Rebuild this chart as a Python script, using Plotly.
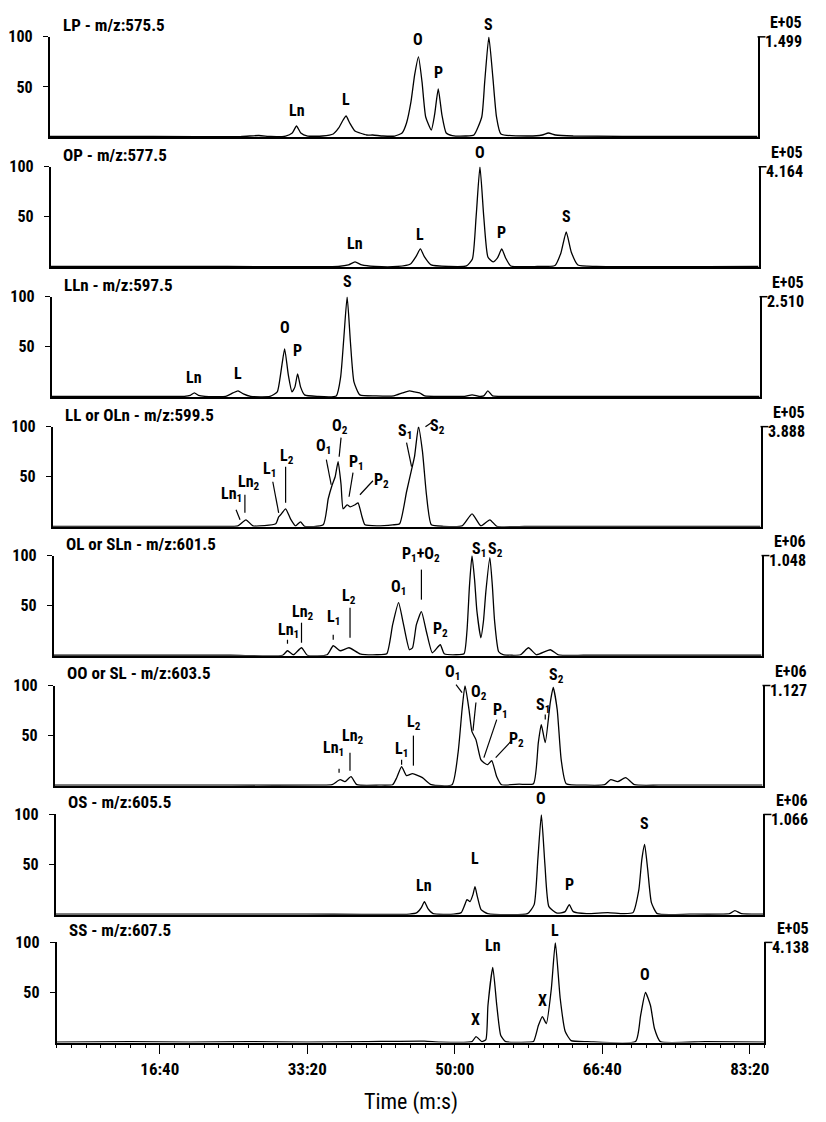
import plotly.graph_objects as go

# ---------------- data ----------------
x_range = [300, 5100]                       # seconds
tick_vals = [1000, 2000, 3000, 4000, 5000]
tick_text = ["16:40", "33:20", "50:00", "66:40", "83:20"]
y_ticks = [50, 100]

titles = ["LP - m/z:575.5", "OP - m/z:577.5", "LLn - m/z:597.5", "LL or OLn - m/z:599.5",
          "OL or SLn - m/z:601.5", "OO or SL - m/z:603.5", "OS - m/z:605.5", "SS - m/z:607.5"]
exponents = ["E+05", "E+05", "E+05", "E+05", "E+06", "E+06", "E+06", "E+05"]
maxima = ["1.499", "4.164", "2.510", "3.888", "1.048", "1.127", "1.066", "4.138"]

p1_t = [300, 1000, 1600, 1719, 1800, 1900, 1945, 1974, 2003, 2050, 2150, 2223, 2260, 2290, 2310, 2335, 2370,
        2404, 2450, 2491, 2560, 2640, 2690, 2720, 2750, 2775, 2801, 2825, 2850, 2888, 2910, 2935, 2960, 2989,
        3030, 3120, 3177, 3230, 3250, 3278, 3305, 3330, 3360, 3550, 3640, 3682, 3730, 3850, 4500, 5100]
p1_v = [0.5, 0.5, 0.5, 1.5, 0.5, 1, 4, 11, 4, 1, 1, 3, 9, 17, 21, 14, 6,
        4, 2, 2, 1, 1, 4, 14, 35, 62, 80, 55, 20, 7, 22, 48, 22, 4,
        1.5, 1, 2, 20, 55, 100, 60, 20, 3, 1, 2, 4, 2, 1, 0.5, 0.5]

p2_t = [300, 1500, 2250, 2320, 2364, 2410, 2500, 2650, 2740, 2780, 2807, 2835, 2880, 3000, 3120, 3160, 3185,
        3211, 3237, 3265, 3300, 3330, 3359, 3385, 3420, 3600, 3720, 3760, 3796, 3830, 3875, 4000, 5100]
p2_v = [0.5, 0.5, 0.5, 2, 5, 2, 0.5, 0.5, 3, 11, 18, 10, 2, 0.5, 1, 8, 50,
        100, 50, 10, 5, 9, 18, 9, 1, 0.5, 1.5, 14, 35, 15, 2, 0.5, 0.5]

p3_t = [300, 1000, 1200, 1240, 1268, 1296, 1340, 1480, 1530, 1564, 1600, 1650, 1780, 1830, 1855, 1880, 1905,
        1930, 1950, 1968, 1988, 2015, 2100, 2230, 2260, 2282, 2304, 2326, 2350, 2390, 2500, 2620, 2680, 2727,
        2760, 2795, 2830, 2950, 3100, 3151, 3200, 3230, 3258, 3290, 3400, 5100]
p3_v = [0.5, 0.5, 0.5, 1.5, 4, 1.5, 0.5, 0.5, 4, 6, 3, 0.5, 0.5, 5, 25, 48, 22,
        5, 10, 23, 10, 2, 0.5, 1, 20, 60, 100, 55, 15, 2, 1, 1, 4, 6,
        5, 4, 1, 0.5, 0.5, 2, 0.5, 1, 6, 1, 0.5, 0.5]

p4_t = [300, 1400, 1557, 1611, 1658, 1813, 1833, 1846, 1880, 1913, 1947, 1981, 2008, 2135, 2169, 2196, 2216,
        2236, 2256, 2270, 2297, 2317, 2351, 2371, 2398, 2418, 2500, 2606, 2653, 2700, 2734, 2754, 2781, 2808,
        2835, 2868, 2950, 3077, 3144, 3204, 3265, 3312, 3500, 5100]
p4_v = [0.5, 0.5, 1, 7, 1, 3, 10, 12, 18, 8, 1, 5, 0.5, 2, 28, 42, 50,
        65, 42, 18, 22, 20, 22, 24, 10, 2, 1, 2, 3, 35, 57, 70, 100, 75,
        32, 2, 0.5, 1, 13, 1, 7, 0.5, 0.5, 0.5]

p5_t = [300, 1500, 1853, 1886, 1927, 1981, 2021, 2155, 2196, 2243, 2303, 2377, 2491, 2559, 2599, 2639, 2673,
        2713, 2734, 2760, 2794, 2828, 2868, 2922, 2949, 3029, 3083, 3103, 3120, 3137, 3155, 3170, 3197, 3215,
        3231, 3258, 3275, 3290, 3318, 3352, 3466, 3520, 3574, 3668, 3722, 3900, 5100]
p5_v = [0.5, 0.5, 0.5, 5, 1, 8, 0.5, 1, 10, 5, 8, 2, 1, 2, 31, 53, 31,
        6, 8, 31, 44, 24, 3, 11, 2, 1, 2, 25, 70, 100, 75, 45, 18, 35,
        64, 98, 70, 35, 4, 1, 1, 8, 1, 6, 1, 0.5, 0.5]

p6_t = [300, 1500, 2100, 2182, 2236, 2269, 2310, 2350, 2500, 2592, 2620, 2653, 2686, 2727, 2794, 2854, 2995,
        3036, 3063, 3083, 3110, 3130, 3157, 3190, 3211, 3237, 3264, 3298, 3331, 3450, 3547, 3580, 3600, 3627,
        3661, 3681, 3708, 3735, 3769, 3900, 4030, 4071, 4118, 4172, 4232, 4400, 5100]
p6_v = [0.5, 0.5, 0.5, 1, 6, 4, 9, 1, 0.5, 1, 8, 19, 10, 12, 8, 1, 1,
        33, 76, 100, 76, 54, 46, 26, 23, 21, 25, 9, 1, 1.5, 2, 43, 61, 43,
        83, 98, 76, 26, 2, 0.5, 1, 6, 4, 8, 1, 0.5, 0.5]

p7_t = [300, 2000, 2700, 2750, 2780, 2801, 2825, 2860, 3000, 3050, 3075, 3090, 3110, 3130, 3144, 3160, 3185,
        3230, 3500, 3545, 3570, 3594, 3618, 3645, 3700, 3755, 3783, 3810, 3900, 4045, 4150, 4215, 4255, 4275,
        4294, 4315, 4340, 4380, 4600, 4870, 4906, 4950, 5100]
p7_v = [0.5, 0.5, 0.5, 2, 7, 13, 6, 1, 0.5, 2, 10, 15, 13, 20, 28, 18, 5,
        1, 1, 10, 55, 100, 50, 8, 1.5, 3, 10, 3, 1, 2, 1, 2, 25, 55,
        70, 45, 12, 1, 0.5, 1, 4, 1, 0.5]

p8_t = [300, 800, 1200, 1600, 2000, 2400, 2794, 2900, 3117, 3144, 3184, 3211, 3225, 3258, 3285, 3312, 3345,
        3500, 3534, 3567, 3594, 3621, 3655, 3682, 3715, 3749, 3789, 3900, 4226, 4260, 4293, 4327, 4354, 4394,
        4700, 5100]
p8_v = [0.5, 1, 0.5, 1, 0.5, 1, 1.5, 0.5, 1, 6, 1, 3, 37, 75, 37, 7, 1,
        0.5, 1, 17, 26, 19, 54, 100, 44, 11, 2, 1, 1, 27, 50, 37, 14, 1,
        1, 0.5]

# peak labels: (text, time, level)
p1_labels = [("Ln", 1974, 26), ("L", 2310, 37), ("O", 2801, 97), ("P", 2935, 64), ("S", 3278, 112)]
p2_labels = [("Ln", 2364, 23), ("L", 2807, 32), ("O", 3211, 114), ("P", 3359, 34), ("S", 3796, 50)]
p3_labels = [("Ln", 1268, 19), ("L", 1564, 23), ("O", 1880, 69), ("P", 1968, 46), ("S", 2304, 115)]
p4_labels = [("Ln<sub>1</sub>", 1510, 32), ("Ln<sub>2</sub>", 1631, 44), ("L<sub>1</sub>", 1772, 57),
             ("L<sub>2</sub>", 1887, 70), ("O<sub>1</sub>", 2135, 80), ("O<sub>2</sub>", 2250, 100),
             ("P<sub>1</sub>", 2364, 64), ("P<sub>2</sub>", 2532, 46), ("S<sub>1</sub>", 2687, 95),
             ("S<sub>2</sub>", 2909, 100)]
p5_labels = [("Ln<sub>1</sub>", 1893, 25), ("Ln<sub>2</sub>", 1994, 43), ("L<sub>1</sub>", 2196, 38),
             ("L<sub>2</sub>", 2303, 59), ("O<sub>1</sub>", 2639, 68), ("P<sub>1</sub>+O<sub>2</sub>", 2794, 101),
             ("P<sub>2</sub>", 2922, 26), ("S<sub>1</sub>", 3184, 106), ("S<sub>2</sub>", 3298, 106)]
p6_labels = [("Ln<sub>1</sub>", 2192, 37), ("Ln<sub>2</sub>", 2322, 49), ("L<sub>1</sub>", 2653, 36),
             ("L<sub>2</sub>", 2740, 63), ("O<sub>1</sub>", 2995, 113), ("O<sub>2</sub>", 3177, 93),
             ("P<sub>1</sub>", 3325, 75), ("P<sub>2</sub>", 3432, 46), ("S<sub>1</sub>", 3614, 80),
             ("S<sub>2</sub>", 3701, 110)]
p7_labels = [("Ln", 2801, 29), ("L", 3144, 56), ("O", 3594, 116), ("P", 3783, 30), ("S", 4294, 91)]
p8_labels = [("X", 3144, 23), ("Ln", 3258, 97), ("X", 3594, 42), ("L", 3682, 112), ("O", 4293, 68)]

# leader lines: (t0, level0, t1, level1)
p4_lines = [(1544, 17, 1571, 7), (1604, 32, 1604, 14), (1793, 45, 1833, 14), (1880, 60, 1880, 24),
            (2156, 67, 2189, 42), (2256, 89, 2243, 70), (2337, 54, 2310, 30), (2472, 46, 2384, 32),
            (2700, 84, 2734, 60), (2828, 100, 2868, 104)]
p5_lines = [(1886, 16, 1886, 12), (1981, 33, 1981, 13), (2196, 21, 2196, 16), (2310, 48, 2310, 18),
            (2794, 86, 2794, 56)]
p6_lines = [(2229, 17, 2229, 13), (2303, 33, 2303, 15), (2653, 26, 2653, 21), (2733, 50, 2733, 20),
            (3022, 101, 3063, 93), (3157, 83, 3137, 55), (3298, 66, 3211, 28), (3399, 45, 3291, 28),
            (3627, 71, 3627, 66)]

series_t = [p1_t, p2_t, p3_t, p4_t, p5_t, p6_t, p7_t, p8_t]
series_v = [p1_v, p2_v, p3_v, p4_v, p5_v, p6_v, p7_v, p8_v]
labels = [p1_labels, p2_labels, p3_labels, p4_labels, p5_labels, p6_labels, p7_labels, p8_labels]
lines = [[], [], [], p4_lines, p5_lines, p6_lines, [], []]

# ---------------- layout geometry / style ----------------
# page body has an 8px margin, so the figure is drawn 8px in from the window corner
OFF = 8
FW, FH = 810, 1106


def fx(px):
    return (px - OFF) / FW


def fy(py):
    return 1 - (py - OFF) / FH


FONT = "Roboto Condensed, Noto Sans Condensed, DejaVu Sans Condensed, Liberation Sans, sans-serif"
baselines = [129, 260, 391, 522, 652, 783, 913, 1042]
PH = 101

fig = go.Figure()
layout = dict(width=FW, height=FH, margin=dict(l=0, r=0, t=0, b=0),
              paper_bgcolor="white", plot_bgcolor="white", showlegend=False)
annotations, shapes = [], []


def bfont(size):
    return dict(family=FONT, size=size, color="black", weight="bold")


for i in range(8):
    k = "" if i == 0 else str(i + 1)
    left, right = 47 + i, 762 + i
    b = baselines[i]
    fig.add_trace(go.Scatter(x=series_t[i], y=series_v[i], mode="lines",
                             line=dict(color="black", width=1.3, shape="spline", smoothing=0.5),
                             xaxis="x" + k, yaxis="y" + k, cliponaxis=False, hoverinfo="skip"))
    xa = dict(domain=[fx(left), fx(right)], range=x_range, anchor="y" + k, showline=True,
              linecolor="black", linewidth=1.6, showgrid=False, zeroline=False, ticks="",
              showticklabels=False)
    if i == 7:
        xa.update(tickvals=tick_vals, ticktext=tick_text, ticks="outside", ticklen=10, tickwidth=1.2,
                  tickcolor="black", showticklabels=True, tickfont=bfont(17),
                  minor=dict(dtick=100, tick0=0, ticks="outside", ticklen=4, tickwidth=1, tickcolor="black"))
    ya = dict(domain=[fy(b), fy(b - PH)], range=[0, 100], anchor="x" + k, showline=True, mirror=True,
              linecolor="black", linewidth=1.6, tickvals=y_ticks, ticks="outside", ticklen=5,
              tickwidth=1.2, tickcolor="black", showgrid=False, zeroline=False, tickfont=bfont(16),
              ticklabelstandoff=7)
    layout["xaxis" + k] = xa
    layout["yaxis" + k] = ya

    yd = "y" + k + " domain"
    # right-hand scale marker
    shapes.append(dict(type="line", xref="x" + k + " domain", yref=yd, x0=1, x1=1 + 8 / 715,
                       y0=1, y1=1, line=dict(color="black", width=1.5)))
    annotations.append(dict(text=exponents[i], xref="paper", x=fx(809 + i), xanchor="right",
                            yref=yd, y=1.14, yanchor="middle", showarrow=False, font=bfont(16)))
    annotations.append(dict(text=maxima[i], xref="paper", x=fx(809 + i), xanchor="right",
                            yref=yd, y=0.95, yanchor="middle", showarrow=False, font=bfont(16)))
    # panel title
    annotations.append(dict(text=titles[i], xref="paper", x=fx(58 + i), xanchor="left",
                            yref=yd, y=1.12, yanchor="middle", showarrow=False, font=bfont(17)))
    for txt, t, lv in labels[i]:
        annotations.append(dict(text=txt, xref="x" + k, yref=yd, x=t, y=lv / 100, showarrow=False,
                                xanchor="center", yanchor="middle", font=bfont(16)))
    for t0, l0, t1, l1 in lines[i]:
        shapes.append(dict(type="line", xref="x" + k, yref=yd, x0=t0, y0=l0 / 100, x1=t1, y1=l1 / 100,
                           line=dict(color="black", width=1.2)))

annotations.append(dict(text="Time (m:s)", xref="paper", yref="paper", x=fx(412), y=fy(1102),
                        xanchor="center", yanchor="middle", showarrow=False,
                        font=dict(family=FONT, size=22, color="black")))

layout["annotations"] = annotations
layout["shapes"] = shapes
fig.update_layout(**layout)
fig.write_html("out.html")
